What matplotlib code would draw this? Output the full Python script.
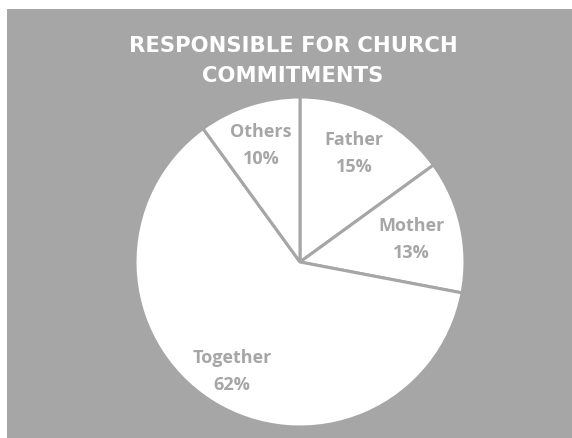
import numpy as np
import matplotlib
matplotlib.use("Agg")
import matplotlib.pyplot as plt
from matplotlib.patches import Rectangle

# Who takes care of church commitments (share of households, %)
categories = ["Father", "Mother", "Together", "Others"]
shares = [15, 13, 62, 10]
title_lines = ["RESPONSIBLE FOR CHURCH", "COMMITMENTS"]

BG = "#a6a6a6"
LABEL = "#a6a6a6"
LABEL_FONT = ["Open Sans", "DejaVu Sans"]
TITLE_FONT = ["DejaVu Sans"]

W, H = 572, 439
fig = plt.figure(figsize=(W / 100, H / 100), dpi=100)
fig.patch.set_facecolor("white")
fig.patches.append(Rectangle((7 / W, 0), 1 - 7 / W, 1 - 10 / H,
                             transform=fig.transFigure, facecolor=BG,
                             edgecolor="none", zorder=-5))

# pie placement (pixels): centre and radius
cx, cy, r = 300, 263, 165
lim = 1.1
half = r * lim
ax = fig.add_axes([(cx - half) / W, (H - cy - half) / H, 2 * half / W, 2 * half / H])
ax.set_facecolor("none")
ax.set_zorder(2)

wedges, _ = ax.pie(shares, startangle=90, counterclock=False, radius=1,
                   colors=["white"] * len(shares),
                   wedgeprops=dict(edgecolor=BG, linewidth=2.2))
ax.set_xlim(-lim, lim)
ax.set_ylim(-lim, lim)
ax.set_aspect("equal")
ax.axis("off")

# label placement: radial distance and small angular shift from each wedge's middle
label_dist = [0.75, 0.69, 0.77, 0.76]
label_shift = [1, 0, 0, 0]
for w, name, val, d, s in zip(wedges, categories, shares, label_dist, label_shift):
    mid = np.deg2rad((w.theta1 + w.theta2) / 2 + s)
    xy = (d * np.cos(mid), d * np.sin(mid))
    for txt, dy in ((name, 7), (f"{val}%", -20)):
        ax.annotate(txt, xy, xytext=(0, dy), textcoords="offset pixels",
                    ha="center", va="baseline", color=LABEL, fontsize=13,
                    fontweight="bold", family=LABEL_FONT)

# two-line chart title, baselines in pixels from the top
for txt, base in zip(title_lines, (52, 82)):
    fig.text(293 / W, 1 - base / H, txt, ha="center", va="baseline",
             color="white", fontsize=15.2, fontweight="bold", family=TITLE_FONT)

fig.savefig("out.png", dpi=100, facecolor=fig.get_facecolor())
